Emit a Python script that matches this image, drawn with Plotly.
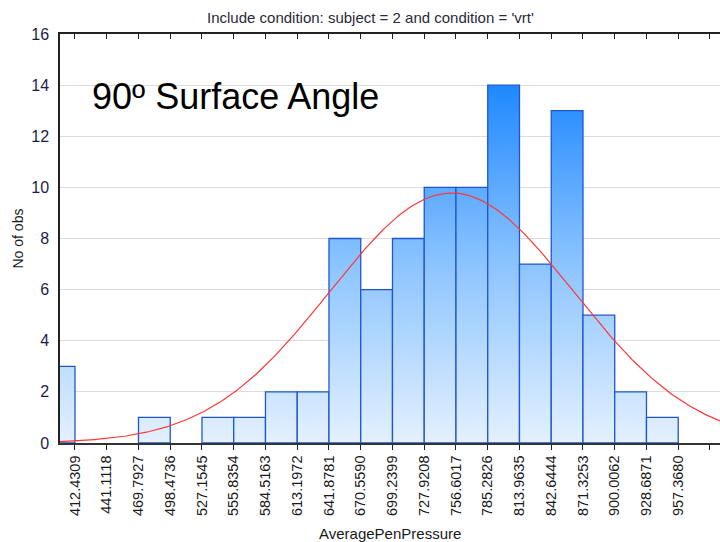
import numpy as np
import plotly.graph_objects as go

# ---- data ----
bin_edges = [383.7500, 412.4309, 441.1118, 469.7927, 498.4736, 527.1545, 555.8354,
             584.5163, 613.1972, 641.8781, 670.5590, 699.2399, 727.9208, 756.6017,
             785.2826, 813.9635, 842.6444, 871.3253, 900.0062, 928.6871, 957.3680]
counts = [3, 0, 0, 1, 0, 1, 1, 2, 2, 8, 6, 8, 10, 10, 14, 7, 13, 5, 2, 1]
tick_labels = ["412.4309", "441.1118", "469.7927", "498.4736", "527.1545", "555.8354",
               "584.5163", "613.1972", "641.8781", "670.5590", "699.2399", "727.9208",
               "756.6017", "785.2826", "813.9635", "842.6444", "871.3253", "900.0062",
               "928.6871", "957.3680", ""]
tick_values = bin_edges[1:] + [986.0489]
fit_mean = 752.7   # fitted normal
fit_sd = 110.0

x_range = [398.9, 995.1]
y_range = [0, 16]

fig = go.Figure()

# bars with vertical gradient
for i, c in enumerate(counts):
    if c <= 0:
        continue
    x0, x1 = bin_edges[i], bin_edges[i + 1]
    fig.add_trace(go.Scatter(
        x=[x0, x0, x1, x1, x0], y=[0, c, c, 0, 0],
        mode="lines", fill="toself",
        fillgradient=dict(type="vertical", start=0, stop=14,
                          colorscale=[[0, "#E4F1FF"], [0.5, "#8CC4FF"], [1, "#1F88FF"]]),
        line=dict(color="#1F56D0", width=1.3),
        hoverinfo="skip", showlegend=False, cliponaxis=True,
    ))

# fitted normal curve
N = sum(counts)
w = bin_edges[1] - bin_edges[0]
xs = np.linspace(x_range[0], x_range[1], 400)
ys = N * w * np.exp(-0.5 * ((xs - fit_mean) / fit_sd) ** 2) / (fit_sd * np.sqrt(2 * np.pi))
fig.add_trace(go.Scatter(x=xs, y=ys, mode="lines",
                         line=dict(color="#FF3535", width=1.2),
                         hoverinfo="skip", showlegend=False))

# invisible trace for top axis
fig.add_trace(go.Scatter(x=[bin_edges[1]], y=[0], xaxis="x2", mode="markers",
                         marker=dict(opacity=0), hoverinfo="skip", showlegend=False))

font_family = "Liberation Sans, Arial, sans-serif"

fig.update_layout(
    width=720, height=542,
    margin=dict(l=60, r=0, t=34, b=99),
    plot_bgcolor="white", paper_bgcolor="white",
    font=dict(family=font_family, size=14, color="#111111"),
    xaxis=dict(range=x_range, tickvals=tick_values, ticktext=tick_labels,
               tickangle=-90, ticks="outside", ticklen=5, tickcolor="#222222",
               showgrid=False, zeroline=False, showline=True, linecolor="#333333",
               linewidth=1.5, tickfont=dict(size=14.5, color="#1a1a1a")),
    xaxis2=dict(range=x_range, overlaying="x", side="top", matches="x",
                tickvals=tick_values, ticks="inside", ticklen=5, tickcolor="#222222",
                showticklabels=False, showgrid=False, zeroline=False,
                showline=True, linecolor="#222222", linewidth=1.5),
    yaxis=dict(range=y_range, dtick=2, tick0=0, ticks="", showgrid=True,
               gridcolor="#DCDCDC", gridwidth=1, zeroline=False, showline=True,
               linecolor="#222222", linewidth=1.5, ticklabelstandoff=6,
               tickfont=dict(size=16, color="#1c1c4a")),
    annotations=[
        dict(text="Include condition: subject = 2 and condition = 'vrt'",
             xref="paper", yref="paper", x=(370 - 60) / 660, y=1, yshift=17,
             xanchor="center", yanchor="middle", showarrow=False,
             font=dict(size=15, color="#2a2a3a")),
        dict(text="90º Surface Angle", xref="paper", yref="paper",
             x=(90 - 60) / 660, y=(443 - 96) / 409, xanchor="left", yanchor="middle",
             showarrow=False, font=dict(size=36, color="black")),
        dict(text="AveragePenPressure", xref="paper", yref="paper",
             x=0.5, y=0, yshift=-(533 - 443), xanchor="center", yanchor="middle",
             showarrow=False, font=dict(size=15, color="#1a1a1a")),
        dict(text="No of obs", xref="paper", yref="paper",
             x=0, xshift=-(60 - 17), y=0.5, textangle=-90,
             xanchor="center", yanchor="middle",
             showarrow=False, font=dict(size=14, color="#1a1a1a")),
    ],
)

fig.write_html("out.html")
